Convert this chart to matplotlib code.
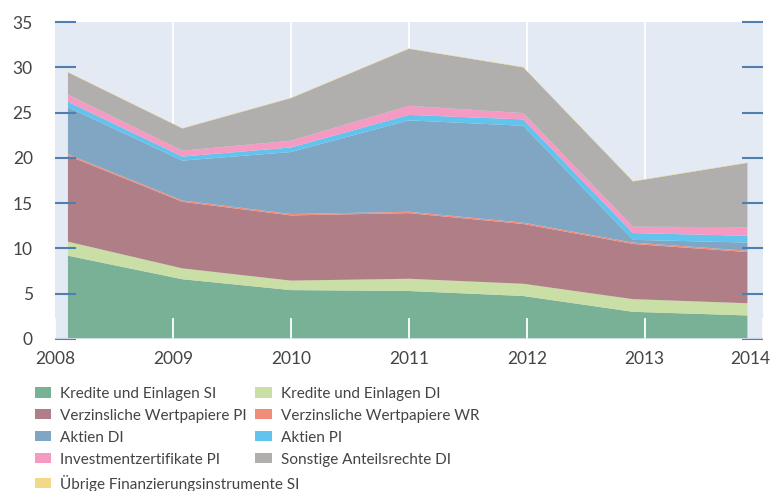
import numpy as np
import matplotlib.pyplot as plt
import matplotlib.transforms as mtransforms

# Data
years = [2008.11, 2009.08, 2010.0, 2011.0, 2011.97, 2012.9, 2013.87]
kredite_si = [9.2, 6.6, 5.4, 5.3, 4.75, 3.0, 2.6]
kredite_di = [1.55, 1.2, 1.05, 1.35, 1.35, 1.4, 1.35]
verz_pi = [9.5, 7.35, 7.2, 7.25, 6.6, 6.1, 5.65]
verz_wr = [0.15, 0.15, 0.15, 0.15, 0.15, 0.15, 0.15]
aktien_di = [5.2, 4.4, 6.85, 10.1, 10.7, 0.3, 0.9]
aktien_pi = [0.6, 0.45, 0.5, 0.6, 0.7, 0.75, 0.75]
invest_pi = [0.8, 0.65, 0.75, 1.0, 0.7, 0.7, 0.95]
sonstige_di = [2.45, 2.45, 4.7, 6.3, 5.05, 5.0, 7.1]
uebrige_si = [0.05, 0.05, 0.05, 0.05, 0.05, 0.05, 0.05]

labels = ['Kredite und Einlagen SI', 'Kredite und Einlagen DI',
          'Verzinsliche Wertpapiere PI', 'Verzinsliche Wertpapiere WR',
          'Aktien DI', 'Aktien PI', 'Investmentzertifikate PI',
          'Sonstige Anteilsrechte DI', 'Übrige Finanzierungsinstrumente SI']
colors = ['#79b196', '#c9dfa5', '#b07e86', '#f08c7a', '#81a6c4',
          '#62c4ec', '#f59ac2', '#b0afad', '#f2d98a']
x_ticks = [2008, 2009, 2010, 2011, 2012, 2013, 2014]
y_ticks = [0, 5, 10, 15, 20, 25, 30, 35]

plt.rcParams['font.family'] = ['Lato', 'DejaVu Sans']

fig = plt.figure(figsize=(7.72, 4.91), dpi=100)
ax = fig.add_axes([0.0712, 0.3096, 0.9168, 0.6454])
ax.set_facecolor('#e3eaf3')

for x in x_ticks[1:-1]:
    ax.axvline(x, color='white', linewidth=1.3, zorder=0)

polys = ax.stackplot(years, kredite_si, kredite_di, verz_pi, verz_wr, aktien_di,
                     aktien_pi, invest_pi, sonstige_di, uebrige_si,
                     colors=colors, labels=labels, linewidth=0, zorder=2)

ax.set_xlim(2008, 2014)
ax.set_ylim(0, 35)
ax.set_xticks(x_ticks)
ax.set_yticks(y_ticks)
for s in ax.spines.values():
    s.set_visible(False)
ax.tick_params(axis='y', direction='in', length=15, width=1.5, color='#4f7fb0',
               left=True, right=True, labelsize=12.5, labelcolor='#444444', pad=16)
ax.tick_params(axis='x', direction='in', length=15, width=1.3, color='white',
               labelsize=12.5, labelcolor='#444444', pad=9)
for t in ax.get_xticklines() + ax.get_yticklines():
    t.set_zorder(3)
ax.set_axisbelow(False)
ax.axhline(0, color='#dfe8ee', linewidth=1.2, zorder=3)

# last x label shifted left so it fits inside the figure
last = ax.get_xticklabels()[-1]
last.set_transform(last.get_transform() + mtransforms.ScaledTranslation(-0.12, 0, fig.dpi_scale_trans))

# legend: two independent columns
leg_kw = dict(loc='upper left', frameon=False, fontsize=11, handlelength=1.1,
              handleheight=0.65, handletextpad=0.55, labelspacing=0.52,
              borderpad=0.2)
left_idx = [0, 2, 4, 6, 8]
right_idx = [1, 3, 5, 7]
leg1 = fig.legend([polys[i] for i in left_idx], [labels[i] for i in left_idx],
                  bbox_to_anchor=(0.031, 0.234), **leg_kw)
leg2 = fig.legend([polys[i] for i in right_idx], [labels[i] for i in right_idx],
                  bbox_to_anchor=(0.317, 0.234), **leg_kw)
for leg in (leg1, leg2):
    for t in leg.get_texts():
        t.set_color('#444444')

plt.savefig('out.png', dpi=100)
